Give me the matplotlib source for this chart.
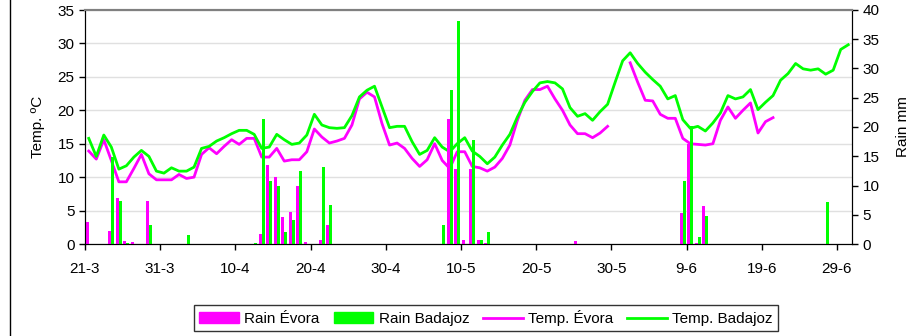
import numpy as np
import pandas as pd
import matplotlib.pyplot as plt
from matplotlib.lines import Line2D
from matplotlib.patches import Patch

plt.rcParams['font.family'] = ['Liberation Sans', 'DejaVu Sans']
plt.rcParams['font.size'] = 11

# daily data from 21-3 onwards
start_date = '2000-03-21'
n_days = 102

temp_evora = [13.9, 12.7, 15.6, 12.5, 9.3, 9.3, 11.3, 13.4, 10.5, 9.6,
              9.6, 9.6, 10.4, 9.8, 10.0, 13.4, 14.4, 13.5, 14.6, 15.6,
              14.9, 15.8, 15.8, 13.0, 13.0, 14.3, 12.4, 12.6, 12.6, 13.8,
              17.2, 16.0, 15.1, 15.4, 15.8, 17.8, 21.7, 22.7, 22.0, 18.0,
              14.8, 15.1, 14.3, 12.8, 11.6, 12.6, 15.0, 12.5, 11.3, 13.8,
              13.8, 11.6, 11.4, 10.9, 11.5, 12.8, 14.8, 18.5, 21.5, 23.1,
              23.1, 23.6, 21.7, 20.0, 17.8, 16.5, 16.5, 15.9, 16.6, 17.6,
              np.nan, np.nan, 27.1, 24.2, 21.5, 21.4, 19.4, 18.8, 18.8, 15.8,
              15.0, 14.9, 14.8, 15.0, 18.5, 20.5, 18.8, 20.0, 21.1, 16.6,
              18.3, 18.9] + [np.nan] * 10

temp_badajoz = [15.8, 13.1, 16.3, 14.5, 11.2, 11.7, 13.0, 14.0, 13.1, 10.9,
                10.6, 11.4, 10.9, 10.9, 11.5, 14.3, 14.6, 15.4, 15.9, 16.5,
                17.0, 17.0, 16.4, 14.3, 14.5, 16.4, 15.6, 14.9, 15.1, 16.3,
                19.4, 17.8, 17.4, 17.3, 17.4, 19.2, 22.0, 23.0, 23.6, 20.5,
                17.4, 17.6, 17.6, 15.3, 13.4, 14.0, 15.9, 14.5, 13.8, 15.0,
                15.9, 13.9, 13.1, 12.0, 13.0, 14.8, 16.4, 19.0, 21.2, 22.8,
                24.1, 24.3, 24.1, 23.2, 20.4, 19.1, 19.5, 18.5, 19.8, 20.9,
                24.2, 27.4, 28.6, 27.0, 25.7, 24.6, 23.6, 21.7, 22.2, 18.6,
                17.3, 17.6, 16.9, 18.1, 19.6, 22.2, 21.7, 22.0, 23.1, 20.1,
                21.2, 22.2, 24.5, 25.5, 27.0, 26.2, 26.0, 26.2, 25.4, 26.0,
                29.1, 29.8]

# rain (mm), only rainy days listed: day index -> value
rain_evora = {0: 3.8, 3: 2.2, 4: 7.8, 5: 0.5, 6: 0.3, 8: 7.35,
              23: 1.7, 24: 13.5, 25: 11.5, 26: 4.6, 27: 5.4, 28: 10.0,
              29: 0.3, 31: 0.6, 32: 3.3, 48: 21.4, 49: 12.9, 50: 0.6,
              51: 12.9, 52: 0.7, 53: 0.2, 65: 0.55, 79: 5.35, 80: 17.1,
              81: 0.2, 82: 6.5}
rain_badajoz = {3: 14.9, 4: 7.35, 5: 0.2, 8: 3.2, 13: 1.5, 22: 0.2,
                23: 21.4, 24: 10.7, 25: 10.0, 26: 2.05, 27: 4.1, 28: 12.5,
                31: 13.2, 32: 6.6, 47: 3.2, 48: 26.4, 49: 38.2, 51: 17.8,
                52: 0.6, 53: 2.0, 79: 10.7, 80: 20.2, 81: 1.2, 82: 4.8,
                98: 7.1}

magenta = '#ff00ff'
green = '#00ff00'

dates = pd.date_range(start_date, periods=n_days)
days = np.arange(n_days)
re = np.zeros(n_days)
rb = np.zeros(n_days)
for k, v in rain_evora.items():
    re[k] = v
for k, v in rain_badajoz.items():
    rb[k] = v

fig = plt.figure(figsize=(9.24, 3.36), dpi=100)
ax = fig.add_axes([85 / 924, 1 - 244 / 336, (852 - 85) / 924, (244 - 10) / 336])
ax2 = ax.twinx()

ax.plot(days + 0.5, temp_evora, color=magenta, lw=2, zorder=3)
ax.plot(days + 0.5, temp_badajoz, color=green, lw=2, zorder=3)

mask_e = re > 0
mask_b = rb > 0
ax2.bar(days[mask_e] + 0.29, re[mask_e], width=0.4, color=magenta, linewidth=0)
ax2.bar(days[mask_b] + 0.71, rb[mask_b], width=0.4, color=green, linewidth=0)

ax.set_xlim(0, n_days)
ax.set_ylim(0, 35)
ax.set_yticks(range(0, 36, 5))
ax2.set_ylim(0, 40)
ax2.set_yticks(range(0, 41, 5))

tick_pos = np.arange(0, n_days, 10)
ax.set_xticks(tick_pos)
ax.set_xticklabels([f'{d.day}-{d.month}' for d in dates[tick_pos]])

ax.yaxis.grid(True, color='#e0e0e0', lw=1)
ax.set_axisbelow(True)
ax.set_ylabel('Temp. ºC', labelpad=9)
ax2.set_ylabel('Rain mm', labelpad=12)

for a in (ax, ax2):
    a.tick_params(direction='out', length=4, width=1, colors='black', labelsize=11)
    a.spines['top'].set_color('#808080')
    a.spines['top'].set_linewidth(1.5)
ax.tick_params(axis='x', pad=9)

# chart area border on the left
fig.add_artist(Line2D([9.5 / 924, 9.5 / 924], [0, 1], color='black', lw=1))

handles = [Patch(color=magenta), Patch(color=green),
           Line2D([], [], color=magenta, lw=2), Line2D([], [], color=green, lw=2)]
labels = ['Rain Évora', 'Rain Badajoz', 'Temp. Évora', 'Temp. Badajoz']
leg = fig.legend(handles, labels, loc='center', ncol=4,
                 bbox_to_anchor=(486 / 924, 1 - 318 / 336), frameon=True,
                 fancybox=False, edgecolor='black', handlelength=2.6,
                 handletextpad=0.35, columnspacing=0.9, borderpad=0.35,
                 fontsize=11)
leg.get_frame().set_linewidth(1)

fig.savefig('out.png', dpi=100)
